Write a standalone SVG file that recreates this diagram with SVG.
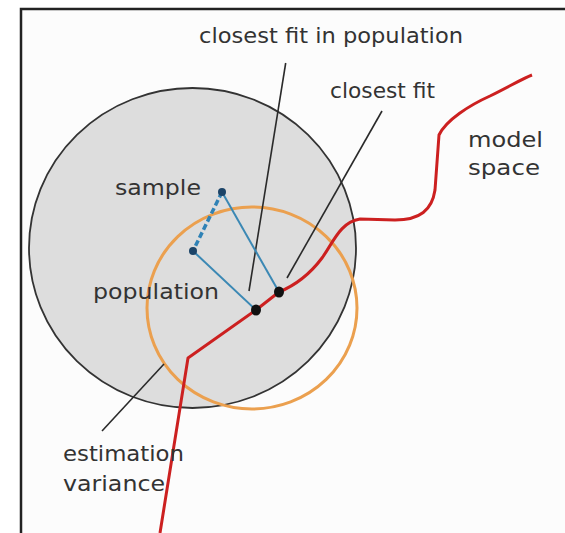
<svg xmlns="http://www.w3.org/2000/svg" width="565" height="533" viewBox="0 0 565 533">
<style>
.lbl{font-family:"DejaVu Sans","Liberation Sans",sans-serif;font-size:22px;fill:#333}
.lead{stroke:#2a2a2a;stroke-width:1.6;fill:none}
.blue{stroke:#3b88b4;stroke-width:2;fill:none}
.bdot{fill:#1c4468}
.kdot{fill:#111}
</style>
<rect width="565" height="533" fill="#ffffff"/>
<g id="frame"><rect x="21" y="9" width="570" height="540" fill="#fcfcfc" stroke="#222" stroke-width="2.5"/></g>
<g id="sample-space"><ellipse cx="192.5" cy="248" rx="163.5" ry="160" fill="#dddddd" stroke="#333" stroke-width="1.8"/></g>
<g id="estimation-variance-circle"><ellipse cx="252" cy="308" rx="105" ry="101" fill="none" stroke="#eba04f" stroke-width="3"/></g>
<g id="connectors">
<line class="lead" x1="285.7" y1="63" x2="249" y2="291"/>
<line class="lead" x1="382" y1="111" x2="287" y2="278"/>
<line class="lead" x1="102" y1="431" x2="164" y2="364"/>
<line class="blue" x1="222" y1="192" x2="279" y2="292"/>
<line class="blue" x1="193" y1="251" x2="256" y2="310"/>
<line x1="222" y1="192" x2="193" y2="251" stroke="#2f82b6" stroke-width="3.5" stroke-dasharray="6,3"/>
</g>
<g id="model-space"><path d="M160,533 L188,358 L256,310 L279,292 C296,285 310,274 322,258 C333,243 340,222 360,219 L395,220 C420,220 432,210 435,190 L439,135 C446,120 470,105 490,96 C510,86 524,78 532,75" fill="none" stroke="#cc2020" stroke-width="3" stroke-linejoin="round"/></g>
<g id="sample"><circle class="bdot" cx="222" cy="192" r="4"/></g>
<g id="population"><circle class="bdot" cx="193" cy="251" r="4"/></g>
<g id="closest-fit-in-population"><ellipse class="kdot" cx="256" cy="310" rx="5" ry="5.5"/></g>
<g id="closest-fit"><ellipse class="kdot" cx="279" cy="292" rx="5" ry="5.5"/></g>
<g id="labels">
<text class="lbl" x="199" y="43" textLength="264" lengthAdjust="spacingAndGlyphs">closest fit in population</text>
<text class="lbl" x="330" y="98" textLength="105" lengthAdjust="spacingAndGlyphs">closest fit</text>
<text class="lbl" x="468" y="147" textLength="75" lengthAdjust="spacingAndGlyphs">model</text>
<text class="lbl" x="468" y="175" textLength="72" lengthAdjust="spacingAndGlyphs">space</text>
<text class="lbl" x="115" y="195" textLength="86" lengthAdjust="spacingAndGlyphs">sample</text>
<text class="lbl" x="93" y="299" textLength="126" lengthAdjust="spacingAndGlyphs">population</text>
<text class="lbl" x="63" y="461" textLength="121" lengthAdjust="spacingAndGlyphs">estimation</text>
<text class="lbl" x="63" y="491" textLength="102" lengthAdjust="spacingAndGlyphs">variance</text>
</g>
</svg>
